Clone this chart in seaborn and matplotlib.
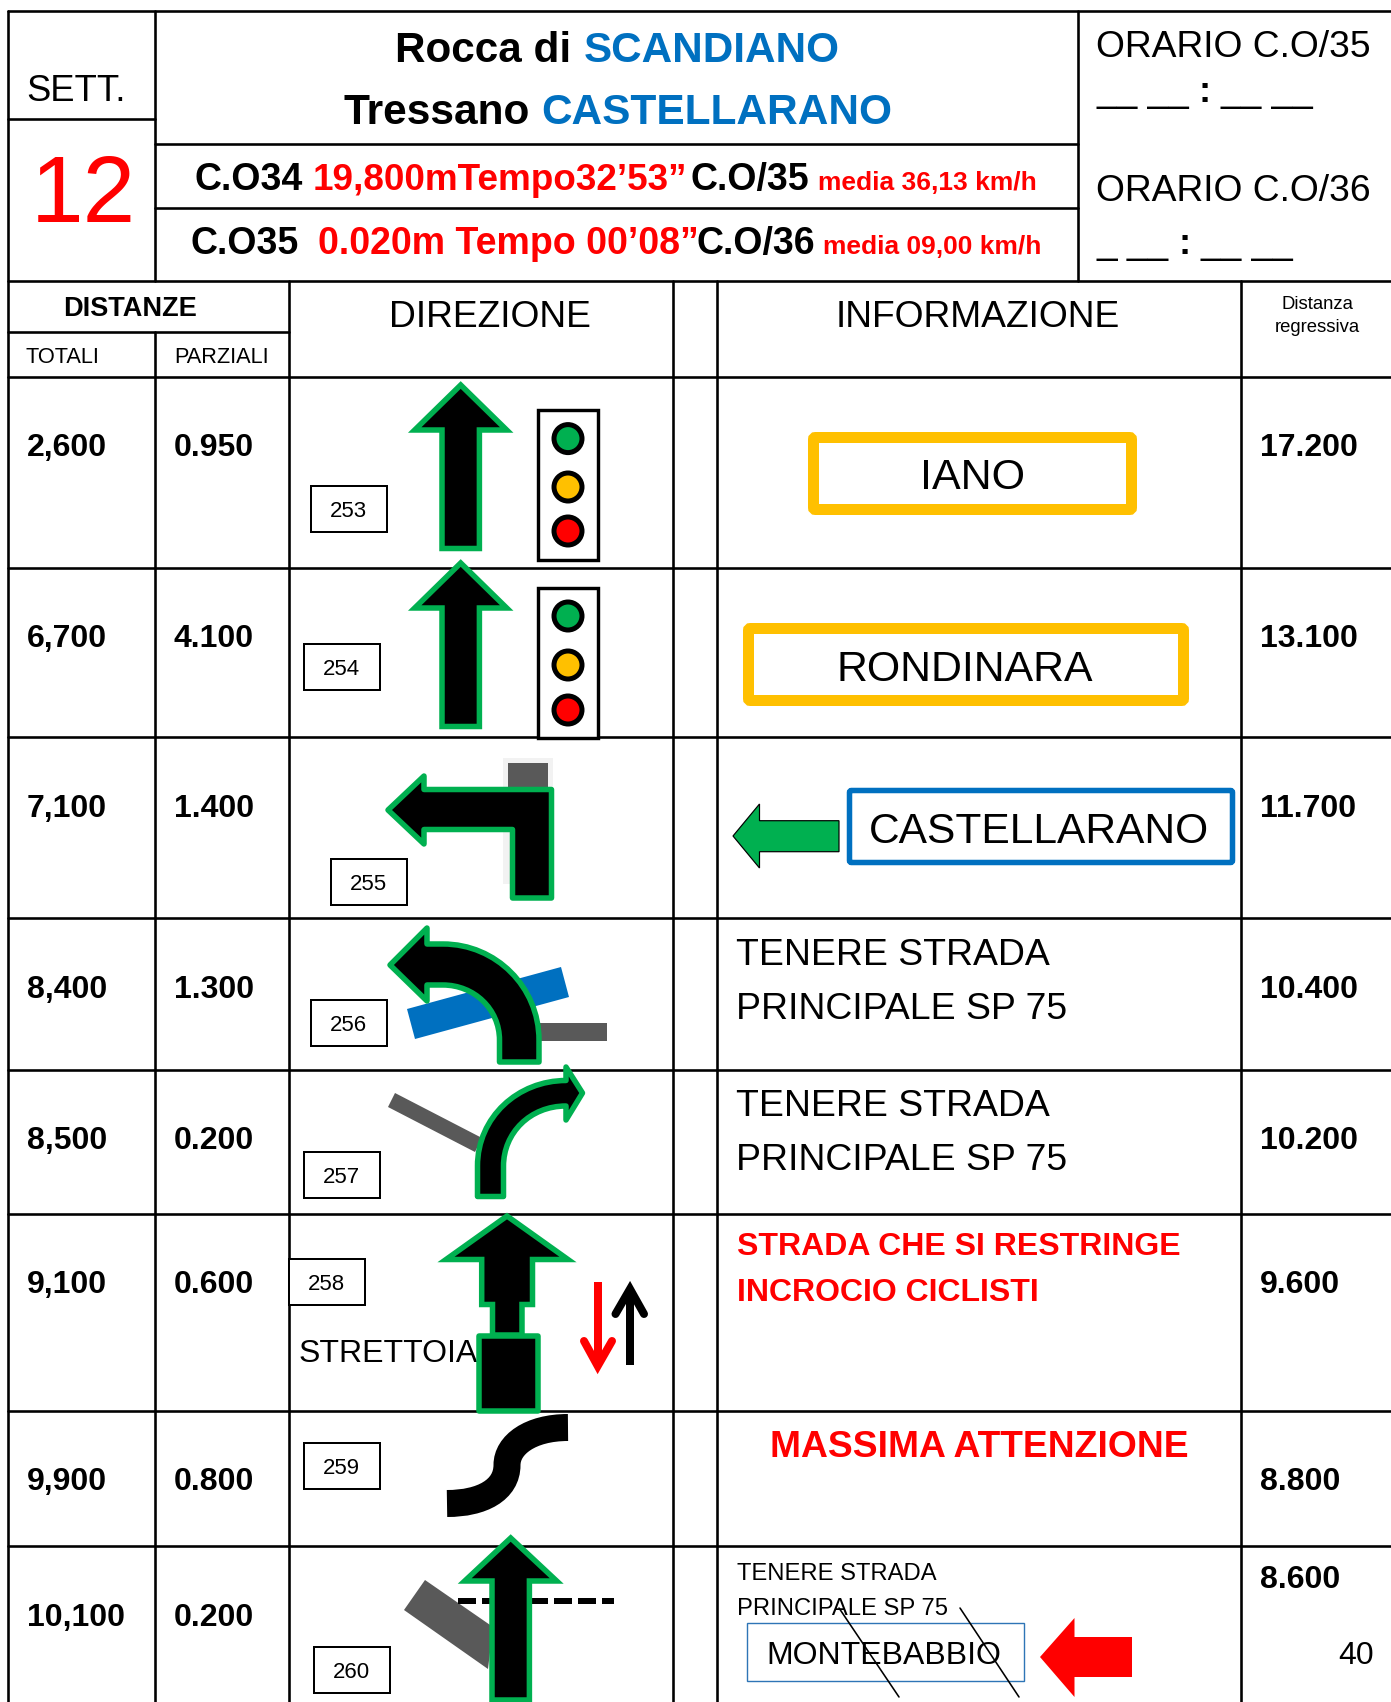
"""
Roadbook sheet, settore 12: table grid, distances and direction pictograms.
Everything is placed on one axes whose units are the pixels of the page.
"""

import pandas as pd
import matplotlib
matplotlib.use("Agg")
import matplotlib.pyplot as plt
import seaborn as sns
from matplotlib.patches import PathPatch, Polygon, Rectangle, FancyBboxPatch
from matplotlib.path import Path

# Table contents
totali = ["2,600", "6,700", "7,100", "8,400", "8,500", "9,100", "9,900", "10,100"]
parziali = ["0.950", "4.100", "1.400", "1.300", "0.200", "0.600", "0.800", "0.200"]
regressiva = ["17.200", "13.100", "11.700", "10.400", "10.200", "9.600", "8.800", "8.600"]
box_labels = ["253", "254", "255", "256", "257", "258", "259", "260"]
signal_lights = ["verde", "giallo", "rosso"]

# Page layout, in pixels
W, H = 1391, 1702
RED, BLUE, GREEN, GRAY, YELLOW = "#ff0000", "#0070c0", "#00b050", "#595959", "#ffc000"
row_base = [456, 647, 817, 998, 1149, 1293, 1490, 1626]
regr_base = [456, 647, 817, 998, 1149, 1293, 1490, 1588]
box_pos = [(311, 486), (304, 644), (331, 859), (311, 1000),
           (304, 1152), (289, 1259), (304, 1443), (314, 1647)]
PX = 0.72  # pixels to points at dpi 100

sns.set_theme(style="white")
plt.rcParams["font.family"] = ["Liberation Sans", "DejaVu Sans"]

fig = plt.figure(figsize=(W / 100, H / 100), dpi=100, facecolor="white")
ax = fig.add_axes([0, 0, 1, 1])


def put(x, y, s, size, color="black", weight="normal", ha="left", z=6):
    ax.text(x, y, s, fontsize=size, color=color, fontweight=weight,
            ha=ha, va="baseline", zorder=z)


def shape(points, face="black", edge=GREEN, lw=5.5, join="miter", z=5):
    ax.add_patch(Polygon(points, closed=True, facecolor=face, edgecolor=edge,
                         linewidth=lw * PX, joinstyle=join, zorder=z))


def up_arrow(cx, tip, head, bottom, half_head=46, half_shaft=18.7):
    shape([(cx, tip), (cx + half_head, head), (cx + half_shaft, head),
           (cx + half_shaft, bottom), (cx - half_shaft, bottom),
           (cx - half_shaft, head), (cx - half_head, head)])


def curve(verts, z=5, face="black", edge=GREEN, lw=5.5):
    # verts: first point, then groups of 1 (line) or 3 (bezier) points
    pts, codes = [verts[0]], [Path.MOVETO]
    for seg in verts[1:]:
        if len(seg) == 3 and isinstance(seg[0], tuple):
            pts += list(seg)
            codes += [Path.CURVE4] * 3
        else:
            pts.append(seg)
            codes.append(Path.LINETO)
    pts.append(verts[0])
    codes.append(Path.CLOSEPOLY)
    ax.add_patch(PathPatch(Path(pts, codes), facecolor=face, edgecolor=edge,
                           linewidth=lw * PX, joinstyle="round", zorder=z))


def sign(x0, y0, x1, y1, color, lw):
    ax.add_patch(FancyBboxPatch((x0, y0), x1 - x0, y1 - y0, boxstyle="round,pad=0,rounding_size=2",
                                facecolor="white", edgecolor=color, linewidth=lw * PX, zorder=4))


# ----------------------------------------------------
# Table grid
# ----------------------------------------------------
segments = [
    (8, 11, W, 11), (8, 119, 155, 119), (155, 144, 1078, 144), (155, 208, 1078, 208),
    (8, 281, W, 281), (8, 332, 289, 332), (8, 377, W, 377), (8, 568, W, 568),
    (8, 737, W, 737), (8, 918, W, 918), (8, 1070, W, 1070), (8, 1214, W, 1214),
    (8, 1411, W, 1411), (8, 1546, W, 1546),
    (8, 11, 8, H), (155, 11, 155, 281), (155, 332, 155, H), (1078, 11, 1078, 281),
    (289, 281, 289, H), (673, 281, 673, H), (717, 281, 717, H), (1241, 281, 1241, H),
]
grid = pd.DataFrame(
    [(i, x, y) for i, (x0, y0, x1, y1) in enumerate(segments) for x, y in ((x0, y0), (x1, y1))],
    columns=["seg", "x", "y"],
)
sns.lineplot(data=grid, x="x", y="y", units="seg", estimator=None, sort=False,
             color="black", linewidth=2.6 * PX, legend=False, ax=ax, zorder=1)

# ----------------------------------------------------
# Header
# ----------------------------------------------------
put(26, 101, "SETT.", 26.2)
put(31, 222, "12", 68, RED)
put(395, 62, "Rocca di", 30.4, weight="bold")
put(584, 62, "SCANDIANO", 30.4, BLUE, "bold")
put(343, 124, "Tressano", 30.5, weight="bold")
put(541, 124, "CASTELLARANO", 30.5, BLUE, "bold")

put(195, 190, "C.O34", 27, weight="bold")
put(313, 190, "19,800mTempo32’53”", 26.6, RED, "bold")
put(691, 190, "C.O/35", 27, weight="bold")
put(818, 190, "media 36,13 km/h", 19, RED, "bold")
put(190, 254, "C.O35", 27, weight="bold")
put(318, 254, "0.020m Tempo 00’08”", 27, RED, "bold")
put(696, 254, "C.O/36", 27, weight="bold")
put(823, 254, "media 09,00 km/h", 19, RED, "bold")

put(1096, 57, "ORARIO C.O/35", 26.8)
put(1096, 102, "__ __", 26.6)
put(1199, 102, ":", 26.6, weight="bold")
put(1221, 102, "__ __", 26.6)
put(1096, 201, "ORARIO C.O/36", 26.8)
put(1096, 254, "_ __", 26.6)
put(1178, 254, ":", 26.6, weight="bold")
put(1201, 254, "__ __", 26.6)

put(63, 316, "DISTANZE", 19.5, weight="bold")
put(26, 363, "TOTALI", 15.7)
put(174, 363, "PARZIALI", 15.7)
put(490, 327, "DIREZIONE", 26.8, ha="center")
put(978, 327, "INFORMAZIONE", 26.8, ha="center")
put(1317, 309, "Distanza", 13.3, ha="center")
put(1317, 332, "regressiva", 13.3, ha="center")

# ----------------------------------------------------
# Distance columns and number boxes
# ----------------------------------------------------
for i in range(len(totali)):
    put(27, row_base[i], totali[i], 23, weight="bold")
    put(174, row_base[i], parziali[i], 23, weight="bold")
    put(1260, regr_base[i], regressiva[i], 23, weight="bold")
    bx, by = box_pos[i]
    ax.add_patch(Rectangle((bx, by), 76, 46, facecolor="white", edgecolor="black",
                           linewidth=2 * PX, zorder=4))
    put(bx + 37, by + 31, box_labels[i], 16, ha="center")

# ----------------------------------------------------
# Rows 253, 254: straight on at the traffic lights
# ----------------------------------------------------
up_arrow(460.7, 385, 430, 548.5)
up_arrow(460.7, 563, 608, 726.5)
ax.add_patch(Rectangle((538, 410), 60, 150, fc="white", ec="black", lw=3.4 * PX, zorder=4))
ax.add_patch(Rectangle((538, 588), 60, 150, fc="white", ec="black", lw=3.4 * PX, zorder=4))
lights = pd.DataFrame({
    "x": [568] * 6,
    "y": [438.6, 487, 531, 616, 665, 710],
    "colore": signal_lights * 2,
})
sns.scatterplot(data=lights, x="x", y="y", hue="colore", s=(28 * PX) ** 2,
                palette={"verde": GREEN, "giallo": YELLOW, "rosso": RED},
                edgecolor="black", linewidth=5 * PX, legend=False, ax=ax, zorder=5)

# ----------------------------------------------------
# Row 255: left turn
# ----------------------------------------------------
ax.add_patch(Rectangle((503, 757.5), 50, 126.5, fc="#f2f2f2", ec="none", zorder=2))
ax.add_patch(Rectangle((508, 763), 40, 30, fc=GRAY, ec="none", zorder=3))
shape([(388, 810), (424, 776), (424, 789.5), (551.5, 789.5), (551.5, 898),
       (512.5, 898), (512.5, 829.5), (424, 829.5), (424, 844)], join="round")

# ----------------------------------------------------
# Row 256: curve left across the blue road
# ----------------------------------------------------
shape([(407, 1009), (561, 967), (569, 997), (415, 1039)], face=BLUE, edge="none", lw=0, z=3)
ax.add_patch(Rectangle((535, 1023), 72, 18, fc=GRAY, ec="none", zorder=3))
curve([(390, 965), (427, 928), (427, 944), (443, 944),
       ((496, 944), (539, 987), (539, 1040)), (539, 1062), (499.5, 1062), (499.5, 1040),
       ((499.5, 1009), (474, 985), (443, 985)), (427, 985), (427, 1001)])

# ----------------------------------------------------
# Row 257: curve right
# ----------------------------------------------------
shape([(395, 1093), (482, 1138), (475, 1152), (388, 1107)], face=GRAY, edge="none", lw=0, z=3)
curve([(477.5, 1196.5), (477.5, 1166), ((477.5, 1117), (518, 1080.5), (566, 1080.5)), (566, 1067),
       (582.5, 1093), (566, 1120), (566, 1106), ((530, 1106), (503.5, 1133), (503.5, 1166)),
       (503.5, 1196.5)])

# ----------------------------------------------------
# Row 258: narrowing
# ----------------------------------------------------
shape([(507, 1216), (568, 1259.5), (532.5, 1259.5), (532.5, 1304.5), (522, 1304.5),
       (522, 1335), (492.5, 1335), (492.5, 1304.5), (481.7, 1304.5), (481.7, 1259.5),
       (446, 1259.5)])
shape([(478.5, 1336), (537.5, 1336), (537.5, 1410.5), (478.5, 1410.5)], join="round", z=7)
put(299, 1362, "STRETTOIA", 23)
ax.plot([597.7, 597.7], [1282, 1362], color=RED, lw=8 * PX, solid_capstyle="butt", zorder=5)
ax.plot([584, 597.7, 612], [1341, 1366, 1341], color=RED, lw=8 * PX,
        solid_capstyle="round", solid_joinstyle="miter", zorder=5)
ax.plot([630, 630], [1290, 1365], color="black", lw=8 * PX, solid_capstyle="butt", zorder=5)
ax.plot([615.5, 630, 644], [1314, 1289, 1314], color="black", lw=8 * PX,
        solid_capstyle="round", solid_joinstyle="miter", zorder=5)

# ----------------------------------------------------
# Row 259: bends
# ----------------------------------------------------
ax.add_patch(PathPatch(
    Path([(447, 1503.5), (482, 1503.5), (507, 1490), (507, 1465),
          (507, 1445), (530, 1427.5), (568, 1427.5)], [Path.MOVETO] + [Path.CURVE4] * 6),
    facecolor="none", edgecolor="black", linewidth=27 * PX, capstyle="butt", zorder=5))

# ----------------------------------------------------
# Row 260: straight on, junction and dashed line
# ----------------------------------------------------
shape([(425, 1580), (493, 1627), (488, 1669), (404, 1610)], face=GRAY, edge="none", lw=0, z=3)
ax.plot([458, 614], [1601, 1601], color="black", lw=6 * PX, linestyle=(0, (3, 1)),
        dash_capstyle="butt", zorder=3)
up_arrow(510.7, 1538, 1581, 1700)

# ----------------------------------------------------
# Information column
# ----------------------------------------------------
sign(813.5, 437.5, 1131.5, 509.5, YELLOW, 11)
put(972, 489, "IANO", 31, ha="center")
sign(748.5, 628.5, 1183.5, 700.5, YELLOW, 11)
put(965, 681, "RONDINARA", 30.8, ha="center")
sign(849.5, 790.5, 1232.5, 862.5, BLUE, 5.5)
put(869, 843, "CASTELLARANO", 30.6)
shape([(733, 836), (759.5, 804), (759.5, 820.7), (839, 820.7), (839, 851.7),
       (759.5, 851.7), (759.5, 868)], face=GREEN, edge="black", lw=1.2)

for first, second in ((965, 1019), (1116, 1170)):
    put(736, first, "TENERE STRADA", 26.9)
    put(736, second, "PRINCIPALE SP 75", 26.9)

put(737, 1255, "STRADA CHE SI RESTRINGE", 23, RED, "bold")
put(737, 1301, "INCROCIO CICLISTI", 23, RED, "bold")
put(770, 1457, "MASSIMA ATTENZIONE", 26.8, RED, "bold")

put(737, 1580, "TENERE STRADA", 17.1)
put(737, 1615, "PRINCIPALE SP 75", 17.1)
ax.add_patch(Rectangle((747, 1623), 277, 58, fc="none", ec="#2e75b6", lw=1.4 * PX, zorder=4))
put(766, 1664, "MONTEBABBIO", 23)
ax.plot([839, 899], [1608, 1697], color="black", lw=1.6 * PX, zorder=7)
ax.plot([960, 1019], [1608, 1697], color="black", lw=1.6 * PX, zorder=7)
shape([(1040, 1657), (1074.5, 1618), (1074.5, 1637), (1132, 1637), (1132, 1677),
       (1074.5, 1677), (1074.5, 1697)], face=RED, edge="none", lw=0)
put(1338, 1664, "40", 23)

ax.set_xlim(0, W)
ax.set_ylim(H, 0)
ax.axis("off")

fig.savefig("out.png", dpi=100, facecolor="white")
plt.close(fig)
